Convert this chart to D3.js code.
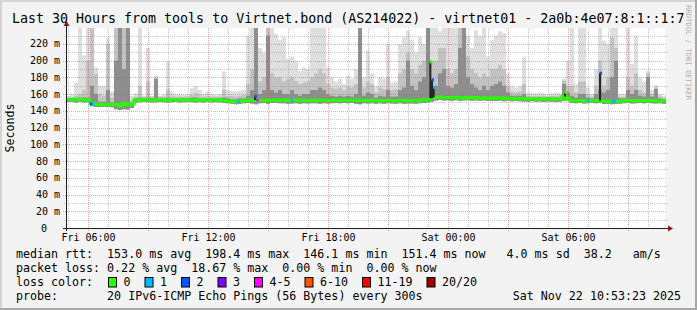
<!DOCTYPE html>
<html><head><meta charset="utf-8">
<script src="https://cdn.jsdelivr.net/npm/d3@7"></script>
<style>
body{margin:0;background:#f3f3f3}
svg{display:block}
text{font-family:"DejaVu Sans Mono",monospace;white-space:pre}
</style>
</head><body>
<svg id="c" width="697" height="310"></svg>
<script>
// ---------- DATA ----------
const titleText = "Last 30 Hours from tools to Virtnet.bond (AS214022) - virtnet01 - 2a0b:4e07:8:1::1:7";
const startTime = "2025-11-21T04:53:23";
const endTime   = "2025-11-22T10:53:23";
const binMinutes = 12;
const yMax = 239;
const yLabelSuffix = " m";

// median rtt (ms) per 12-minute bin
const median = [
153.5,153.8,153.2,153.6,153.0,153.4,148.8,147.8,147.5,147.9,
147.6,147.3,147.5,146.2,148.6,147.2,147.8,153.2,153.0,153.5,
153.1,152.8,153.3,153.6,153.0,152.7,153.2,153.4,152.9,153.1,
153.5,153.0,152.8,153.3,153.0,153.4,152.9,153.2,153.0,152.5,
152.0,151.3,151.0,151.5,152.2,152.8,152.5,153.0,152.4,152.8,
152.2,152.6,153.0,152.3,152.7,152.1,152.4,152.9,152.2,152.6,
152.0,152.5,152.8,152.3,152.6,152.1,152.5,152.9,152.4,152.7,
152.2,152.6,152.3,152.8,152.4,152.0,152.4,151.9,152.3,152.0,
152.5,152.1,151.8,152.4,152.0,152.6,152.2,151.9,152.5,153.0,
153.2,155.0,156.2,156.5,155.8,156.0,155.5,156.3,155.0,155.7,
156.1,155.3,155.8,155.2,155.6,154.9,155.4,155.0,155.5,154.8,
155.2,154.6,155.0,154.8,154.5,154.2,154.6,154.0,154.3,153.9,
154.4,154.1,153.8,154.2,157.0,155.0,152.5,152.0,152.3,151.8,
152.1,152.4,152.0,152.2,151.2,151.5,151.0,151.3,151.6,152.0,
152.3,151.8,152.2,152.5,152.0,152.4,152.1,151.9,152.2,151.4
];
// lowest ping per bin
const smokeLow = [
150.5,150.8,150.0,150.5,150.0,150.2,145.5,144.5,144.6,144.8,
144.5,144.2,142.0,141.0,142.0,141.5,143.5,150.0,150.2,150.6,
150.2,150.0,150.3,150.5,150.2,149.8,150.3,150.5,150.0,150.2,
150.5,150.2,149.9,150.4,150.1,150.5,150.0,150.3,150.0,149.5,
149.0,148.4,148.0,148.5,149.0,149.5,148.8,148.0,149.0,149.5,
148.5,149.3,149.5,149.0,149.2,148.5,148.8,149.2,148.5,149.0,
148.8,149.0,149.2,148.6,149.0,148.8,149.2,149.5,149.0,149.3,
149.0,149.3,148.5,148.0,149.0,148.8,149.0,148.5,149.0,148.6,
149.2,148.8,148.4,149.0,148.5,148.8,148.7,148.5,149.0,149.5,
150.0,151.0,152.5,153.0,152.5,152.8,152.0,152.8,151.8,152.4,
152.8,152.0,152.5,152.0,152.3,151.8,152.1,151.8,152.2,151.5,
152.0,151.4,151.8,151.5,151.3,151.0,151.4,150.8,151.1,150.7,
151.2,150.9,150.6,151.0,152.0,152.5,149.5,149.0,149.3,148.8,
149.1,149.4,149.0,149.5,148.2,148.5,148.0,148.4,148.6,149.0,
149.3,148.8,149.2,149.5,149.0,149.4,149.1,148.9,149.2,148.5
];
// highest ping per bin (light smoke)
const smokeMax = [
158,160,174,239,206,239,239,192,170,170,
228,163,239,239,239,239,158,161,239,158,
215,158,182,158,159,199,163,160,160,159,
160,167,170,165,160,163,160,159,160,187,
165,164,163,164,165,230,239,239,215,210,
239,239,232,225,228,202,205,200,188,192,
190,239,239,239,239,192,180,175,178,172,
182,178,190,239,180,212,185,170,180,178,
220,174,175,220,228,236,225,210,228,220,
239,239,239,235,239,239,239,239,239,239,
230,215,236,230,239,205,225,230,235,233,
185,170,168,170,204,162,161,161,162,161,
160,161,162,161,178,200,239,172,239,239,
168,160,190,239,224,220,239,239,160,160,
239,196,230,180,175,188,165,171,160,158
];
// medium-grey smoke top
const smokeMid = [
156,156,158,160,165,200,239,184,160,158,
220,156,239,239,239,239,152,157,170,157,
175,157,180,157,157,165,158,157,157,157,
157,159,161,159,157,158,157,157,157,165,
158,158,157,158,159,172,190,239,175,180,
239,185,180,180,175,178,180,176,172,174,
175,180,185,190,185,172,168,166,168,165,
170,168,172,239,168,175,172,162,168,166,
180,165,166,185,190,210,190,185,195,200,
239,200,200,215,215,190,185,190,239,239,
205,190,185,180,185,180,190,190,195,190,
170,163,162,163,172,158,158,158,158,158,
157,158,158,158,176,170,170,162,175,175,
160,157,170,200,170,180,228,215,157,157,
180,170,185,165,162,185,160,168,157,156
];
// dark-grey core smoke top
const smokeDark = [
155,155,155.5,156,156,156,170,160,151,151,
165,150,200,239,190,239,150,155,156,155,
156,155,178,155,155,156,155,155,155,155,
155,156,156,155,155,155,155,155,155,156,
155,154,154,155,155,158,165,239,160,165,
230,165,162,165,160,160,165,160,158,160,
160,165,165,168,165,160,158,157,158,157,
158,157,160,239,158,162,160,156,158,157,
165,157,157,165,168,200,170,165,175,180,
239,165,170,185,190,170,168,172,215,239,
180,172,168,165,170,165,170,172,175,170,
162,158,158,158,160,156,156,156,156,156,
156,156,156,156,172,162,158,156,160,160,
156,155,160,165,162,165,180,200,155,155,
165,160,165,158,157,180,157,166,155,154
];
// individual 5-minute median samples (spikes and samples with packet loss)
const sampleTimes  = ["2025-11-21T06:08","2025-11-21T06:14","2025-11-21T13:29","2025-11-21T14:22","2025-11-21T14:27","2025-11-21T16:11","2025-11-21T23:08","2025-11-21T23:13","2025-11-21T23:18","2025-11-22T05:52","2025-11-22T06:59","2025-11-22T07:37","2025-11-22T08:13","2025-11-22T08:18"];
const sampleValues = [148.5,148.0,151.0,157.4,153.0,152.2,198.4,177.0,168.0,162.0,152.1,185.0,151.2,151.2];
const sampleLoss   = [2,1,1,2,4,1,0,2,1,0,1,2,1,1];

const lossLabels = ["0","1","2","3","4-5","6-10","11-19","20/20"];
const lossColors = ["#26ff00","#00b8ff","#0059ff","#7e00ff","#ff00ff","#ff5500","#ff0000","#a00000"];

const legendRtt  = "median rtt:  153.0 ms avg  198.4 ms max  146.1 ms min  151.4 ms now   4.0 ms sd  38.2   am/s";
const legendLoss = "packet loss: 0.22 % avg  18.67 % max  0.00 % min  0.00 % now";
const legendColorLabel = "loss color:";
const legendProbe = "probe:       20 IPv6-ICMP Echo Pings (56 Bytes) every 300s";
const legendDate = "Sat Nov 22 10:53:23 2025";
const yAxisTitle = "Seconds";
const watermark = "RRDTOOL / TOBI OETIKER";

// ---------- DRAW ----------
const W = 697, H = 310;
const P = {l:66, r:666, t:28, b:228};
const svg = d3.select("#c");
const t0 = new Date(startTime), t1 = new Date(endTime);
const x = d3.scaleTime().domain([t0, t1]).range([P.l, P.r]);
const y = d3.scaleLinear().domain([0, yMax]).range([P.b, P.t]);

svg.append("rect").attr("width",W).attr("height",H).attr("fill","#f3f3f3");
svg.append("rect").attr("x",0).attr("y",0).attr("width",W).attr("height",2).attr("fill","#d4d4d4");
svg.append("rect").attr("x",0).attr("y",0).attr("width",2).attr("height",H).attr("fill","#d4d4d4");
svg.append("rect").attr("x",W-2).attr("y",0).attr("width",2).attr("height",H).attr("fill","#a8a8a8");
svg.append("rect").attr("x",0).attr("y",H-2).attr("width",W).attr("height",2).attr("fill","#a8a8a8");

svg.append("rect").attr("x",P.l).attr("y",P.t).attr("width",P.r-P.l).attr("height",P.b-P.t).attr("fill","#fff");

const data = median.map((m,i)=>({
  t: d3.timeMinute.offset(t0, i*binMinutes),
  med:m, lo:smokeLow[i], mx:smokeMax[i], mid:smokeMid[i], dk:smokeDark[i]
}));
const lastT = d3.timeMinute.offset(t0, median.length*binMinutes);
data.push(Object.assign({}, data[data.length-1], {t: lastT > t1 ? t1 : lastT}));

const g = svg.append("g");
function band(top, col){
  g.append("path").datum(data)
   .attr("d", d3.area().curve(d3.curveStepAfter).x(d=>x(d.t)).y0(d=>y(d.lo)).y1(d=>y(Math.max(d[top], d.lo))))
   .attr("fill", col);
}
band("mx","#dedede");
band("mid","#c2c2c2");
band("dk","#8e8e8e");

// grid (drawn over data like rrdtool)
const grid = svg.append("g");
const minorY = d3.range(10, yMax, 10).filter(v=>v%20!==0);
const majorY = d3.range(20, yMax, 20);
minorY.forEach(v=>{
  const yy = Math.round(y(v))+0.5;
  grid.append("line").attr("x1",P.l-2).attr("x2",P.r+1).attr("y1",yy).attr("y2",yy)
    .attr("stroke","rgba(140,140,140,0.45)").attr("stroke-dasharray","1,1");
});
majorY.forEach(v=>{
  const yy = Math.round(y(v))+0.5;
  grid.append("line").attr("x1",P.l-3).attr("x2",P.r+1).attr("y1",yy).attr("y2",yy)
    .attr("stroke","rgba(222,80,80,0.5)").attr("stroke-dasharray","1,1");
});
d3.timeHour.range(t0, t1).forEach(h=>{
  const xx = Math.round(x(h))+0.5;
  const major = h.getHours()%3===0;
  grid.append("line").attr("x1",xx).attr("x2",xx).attr("y1",P.t).attr("y2",P.b+(major?3:2))
    .attr("stroke", major?"rgba(222,80,80,0.5)":"rgba(140,140,140,0.45)").attr("stroke-dasharray","1,1");
});

// median line
svg.append("path").datum(data)
  .attr("d", d3.line().curve(d3.curveStepAfter).x(d=>x(d.t)).y(d=>y(d.med)))
  .attr("fill","none").attr("stroke","#26ff00").attr("stroke-width",3);

// individual samples: dark core line up to spike + loss-coloured median mark
const binIndex = t => Math.min(median.length-1, Math.floor((t - t0)/(binMinutes*60000)));
sampleTimes.forEach((ts,i)=>{
  const t = new Date(ts);
  const xx = x(t);
  const base = median[binIndex(t)];
  if (sampleValues[i] - base > 3) {
    svg.append("rect").attr("x",xx-1.5).attr("y",y(sampleValues[i])).attr("width",2)
      .attr("height",y(base)-y(sampleValues[i])).attr("fill","#262626");
  }
  svg.append("rect").attr("x",xx-1).attr("y",y(sampleValues[i])-1.5).attr("width",2.5).attr("height",3)
    .attr("fill",lossColors[sampleLoss[i]]);
});

// axes
const axisCol = "#1e1e1e", arrowCol = "#8c1414";
svg.append("line").attr("x1",P.l+0.5).attr("x2",P.l+0.5).attr("y1",P.b+3).attr("y2",P.t-3).attr("stroke",axisCol);
svg.append("line").attr("x1",P.l-3).attr("x2",P.r+3).attr("y1",P.b+0.5).attr("y2",P.b+0.5).attr("stroke",axisCol);
svg.append("path").attr("d",`M${P.r+2},${P.b-2.5}L${P.r+7},${P.b+0.5}L${P.r+2},${P.b+3.5}Z`).attr("fill",arrowCol);
svg.append("path").attr("d",`M${P.l-2.5},${P.t-2}L${P.l+0.5},${P.t-7}L${P.l+3.5},${P.t-2}Z`).attr("fill",arrowCol);

// y labels
majorY.concat([0]).forEach(v=>{
  svg.append("text").attr("x", v===0?47:60).attr("y", y(v)+3.5).attr("text-anchor","end")
    .attr("font-size",10).attr("fill","#000").text(v===0? "0" : v+yLabelSuffix);
});
// x labels
const fmt = d3.timeFormat("%a %H:%M");
d3.timeHour.every(6).range(t0, t1).forEach(h=>{
  svg.append("text").attr("x", Math.round(x(h))+0.5).attr("y",241).attr("text-anchor","middle")
    .attr("font-size",10).attr("fill","#000").text(fmt(h));
});

// titles
svg.append("text").attr("x",12).attr("y",23).attr("font-size",13.3).attr("fill","#000").text(titleText);
svg.append("text").attr("transform","translate(14,128) rotate(-90)").attr("text-anchor","middle")
  .attr("font-size",11.6).attr("fill","#000").text(yAxisTitle);
svg.append("text").attr("transform","translate(686,5) rotate(90)").attr("font-size",7.2)
  .attr("fill","#b0b0b0").text(watermark);

// legend
const LF = 11.65;
svg.append("text").attr("x",16).attr("y",258).attr("font-size",LF).text(legendRtt);
svg.append("text").attr("x",16).attr("y",272).attr("font-size",LF).text(legendLoss);
svg.append("text").attr("x",16).attr("y",286).attr("font-size",LF).text(legendColorLabel);
let bx = 108;
lossLabels.forEach((lab,i)=>{
  svg.append("rect").attr("x",bx+0.5).attr("y",277.5).attr("width",8).attr("height",9.5)
    .attr("fill",lossColors[i]).attr("stroke","#000").attr("stroke-width",1);
  svg.append("text").attr("x",bx+15.5).attr("y",286).attr("font-size",LF).text(lab);
  bx = bx + 15.5 + lab.length*7 + 14;
});
svg.append("text").attr("x",16).attr("y",300).attr("font-size",LF).text(legendProbe);
svg.append("text").attr("x",681).attr("y",300).attr("text-anchor","end").attr("font-size",LF).text(legendDate);
</script>
</body></html>
